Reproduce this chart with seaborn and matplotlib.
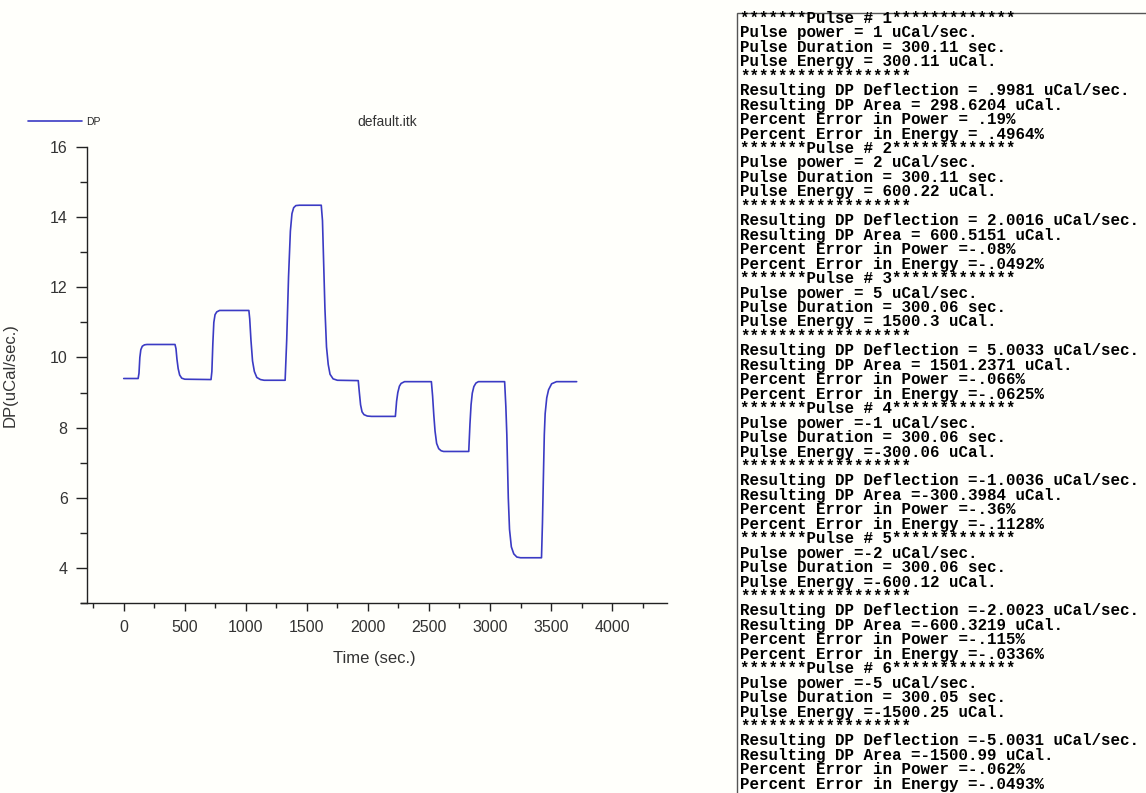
import pandas as pd
import matplotlib.pyplot as plt
import seaborn as sns
from matplotlib.patches import Rectangle
from matplotlib.ticker import MultipleLocator

# DP trace (time in sec., DP in uCal/sec.)
time_sec = [0, 118, 125, 132, 140, 152, 170, 190, 420, 428, 436, 446, 458, 475, 500,
            715, 722, 730, 738, 748, 762, 785, 1025, 1032, 1042, 1055, 1070, 1090, 1120, 1150,
            1322, 1335, 1350, 1365, 1378, 1392, 1410, 1440, 1618, 1628, 1636, 1648, 1661, 1675,
            1690, 1715, 1750, 1921, 1930, 1940, 1952, 1968, 1995, 2030, 2225, 2235, 2245, 2258,
            2272, 2300, 2520, 2530, 2540, 2550, 2563, 2580, 2600, 2620, 2826, 2836, 2845, 2855,
            2868, 2885, 2905, 3120, 3130, 3138, 3150, 3160, 3175, 3195, 3220, 3250, 3422, 3430,
            3437, 3445, 3452, 3465, 3480, 3505, 3545, 3710]
dp_values = [9.40, 9.40, 9.55, 10.0, 10.22, 10.32, 10.36, 10.37, 10.37, 10.25, 9.95, 9.68, 9.50, 9.41, 9.38,
             9.37, 9.6, 10.4, 11.0, 11.22, 11.30, 11.34, 11.34, 11.1, 10.5, 9.9, 9.6, 9.43, 9.37, 9.35,
             9.35, 10.5, 12.3, 13.6, 14.1, 14.27, 14.33, 14.34, 14.34, 13.9, 12.9, 11.4, 10.3, 9.8,
             9.52, 9.39, 9.35, 9.34, 9.0, 8.65, 8.45, 8.37, 8.33, 8.32, 8.32, 8.75, 9.0, 9.18,
             9.26, 9.31, 9.31, 8.9, 8.35, 7.9, 7.55, 7.40, 7.34, 7.32, 7.32, 8.1, 8.65, 8.98,
             9.17, 9.27, 9.31, 9.31, 8.6, 7.8, 6.0, 5.1, 4.6, 4.4, 4.31, 4.29, 4.29, 5.3,
             6.5, 7.8, 8.4, 8.85, 9.08, 9.25, 9.31, 9.31]

# pulse report shown on the right
pulse_power = ['1', '2', '5', '-1', '-2', '-5']
pulse_duration = ['300.11', '300.11', '300.06', '300.06', '300.06', '300.05']
pulse_energy = ['300.11', '600.22', '1500.3', '-300.06', '-600.12', '-1500.25']
dp_deflection = ['.9981', '2.0016', '5.0033', '-1.0036', '-2.0023', '-5.0031']
dp_area = ['298.6204', '600.5151', '1501.2371', '-300.3984', '-600.3219', '-1500.99']
err_power = ['.19', '-.08', '-.066', '-.36', '-.115', '-.062']
err_energy = ['.4964', '-.0492', '-.0625', '-.1128', '-.0336', '-.0493']

LINE_COLOR = '#3b3bc4'
BG = '#fffffb'


def eq(v):
    return '=' + (v if v.startswith('-') else ' ' + v)


def report_lines():
    lines = []
    for i in range(len(pulse_power)):
        lines.append('*******Pulse # %d*************' % (i + 1))
        lines.append('Pulse power %s uCal/sec.' % eq(pulse_power[i]))
        lines.append('Pulse Duration %s sec.' % eq(pulse_duration[i]))
        lines.append('Pulse Energy %s uCal.' % eq(pulse_energy[i]))
        lines.append('*' * 18)
        lines.append('Resulting DP Deflection %s uCal/sec.' % eq(dp_deflection[i]))
        lines.append('Resulting DP Area %s uCal.' % eq(dp_area[i]))
        lines.append('Percent Error in Power %s%%' % eq(err_power[i]))
        lines.append('Percent Error in Energy %s%%' % eq(err_energy[i]))
    return lines


def main():
    sns.set_style('ticks')
    plt.rcParams['font.family'] = ['Liberation Sans', 'DejaVu Sans']

    W, H = 1146, 793
    fig = plt.figure(figsize=(W / 100, H / 100), dpi=100, facecolor=BG)
    ax = fig.add_axes([81 / W, 1 - 603 / H, (667 - 81) / W, (603 - 147) / H])
    ax.set_facecolor(BG)

    df = pd.DataFrame({'Time': time_sec, 'DP': dp_values})
    sns.lineplot(data=df, x='Time', y='DP', ax=ax, color=LINE_COLOR, lw=1.2,
                 estimator=None, sort=False, label='DP')

    ax.set_xlim(-350, 4450)
    ax.set_ylim(3, 16)
    ax.spines['left'].set_position(('data', -300))
    for s in ['top', 'right']:
        ax.spines[s].set_visible(False)
    for s in ['left', 'bottom']:
        ax.spines[s].set_color('#222222')
        ax.spines[s].set_linewidth(1.0)

    ax.xaxis.set_minor_locator(MultipleLocator(250))
    ax.yaxis.set_major_locator(MultipleLocator(2))
    ax.yaxis.set_minor_locator(MultipleLocator(1))
    ax.set_xticks(range(0, 4001, 500))
    ax.tick_params(axis='x', which='major', length=6, width=1, pad=6,
                   labelsize=11.5, labelcolor='#333333', color='#222222')
    ax.tick_params(axis='x', which='minor', length=3.5, width=1, color='#222222')
    ax.tick_params(axis='y', which='major', length=8, width=1, pad=6,
                   labelsize=11.5, labelcolor='#333333', color='#222222')
    ax.tick_params(axis='y', which='minor', length=5, width=1, color='#222222')

    ax.set_xlabel('Time (sec.)', fontsize=12, color='#333333', labelpad=12)
    ax.set_ylabel('DP(uCal/sec.)', fontsize=12, color='#333333')
    ax.yaxis.set_label_coords(-(81 - 18) / (667 - 81), 0.5)

    ax.get_legend().remove()
    handles, labels = ax.get_legend_handles_labels()
    fig.legend(handles, labels, loc='center left', bbox_to_anchor=(28 / W, 1 - 122 / H),
               frameon=False, fontsize=7.5, handlelength=5.2, handletextpad=0.35,
               borderpad=0, borderaxespad=0)
    fig.text(387 / W, 1 - 122 / H, 'default.itk', ha='center', va='center',
             fontsize=10, color='#333333')

    # console style report panel
    x0 = 737 / W
    y0 = 1 - 12.5 / H
    fig.add_artist(Rectangle((x0, -0.05), 1.0, y0 + 0.05, transform=fig.transFigure,
                             fill=False, edgecolor='#555555', lw=1.0))
    for i, line in enumerate(report_lines()):
        yb = 18.0 + i * 14.45 + 5.0
        fig.text(740 / W, 1 - yb / H, line, ha='left', va='baseline',
                 family='Liberation Mono', fontweight='bold', fontsize=11.4, color='black')

    fig.savefig('out.png', dpi=100, facecolor=BG)
    plt.close(fig)


if __name__ == '__main__':
    main()
